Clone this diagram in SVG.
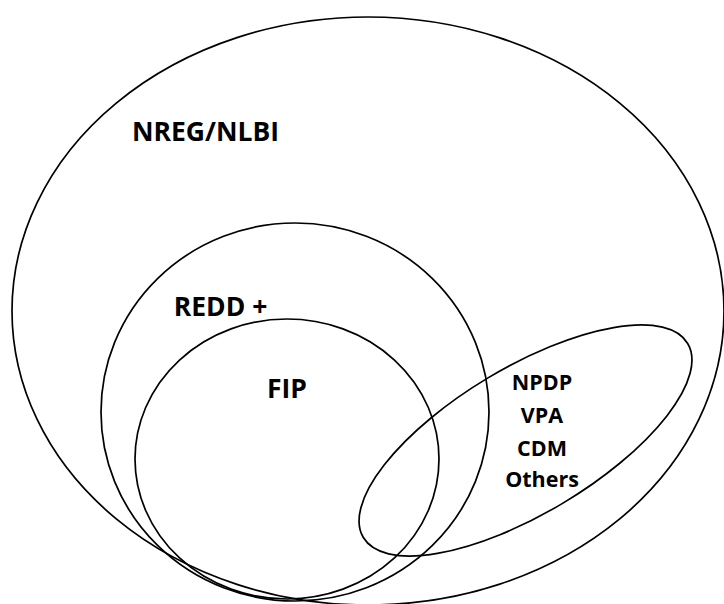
<svg xmlns="http://www.w3.org/2000/svg" width="724" height="604" viewBox="0 0 724 604">
<style>
.set{fill:none;stroke:#000;stroke-width:1.7}
.lbl{font-family:"Open Sans","Liberation Sans",sans-serif;font-weight:bold;fill:#000;text-anchor:middle}
.big{font-size:26.5px}
.small{font-size:21.5px}
</style>
<rect width="724" height="604" fill="#fff"/>
<g id="nreg">
<ellipse class="set" cx="368" cy="311" rx="356" ry="294"/>
<text class="lbl big" x="205.5" y="141">NREG/NLBI</text>
</g>
<g id="redd">
<ellipse class="set" cx="295" cy="412" rx="194" ry="189"/>
<text class="lbl big" x="220.5" y="316">REDD +</text>
</g>
<g id="fip">
<ellipse class="set" cx="287" cy="459" rx="152" ry="140"/>
<text class="lbl big" x="287" y="398">FIP</text>
</g>
<g id="others">
<ellipse class="set" cx="525.5" cy="440.5" rx="189" ry="73" transform="rotate(-30.9 525.5 440.5)"/>
<text class="lbl small" x="542" y="390">NPDP</text>
<text class="lbl small" x="542" y="423">VPA</text>
<text class="lbl small" x="542" y="456">CDM</text>
<text class="lbl small" x="542" y="487">Others</text>
</g>
<g id="connectors"/>
</svg>
